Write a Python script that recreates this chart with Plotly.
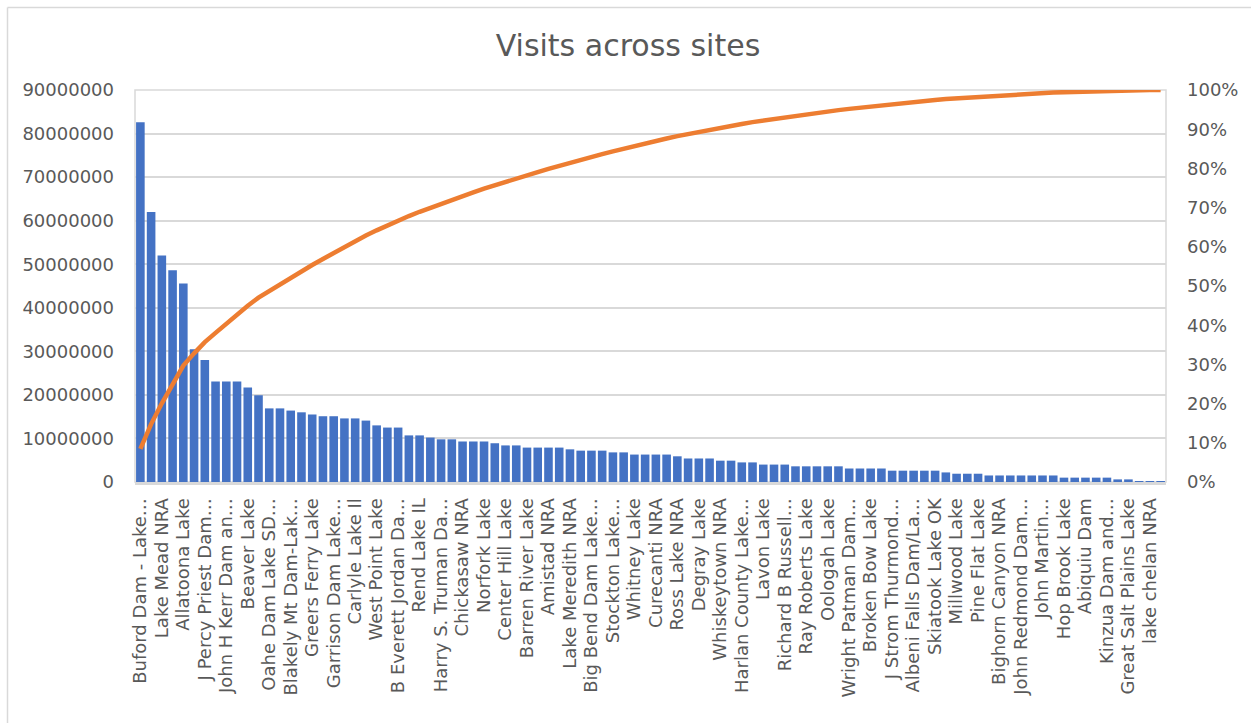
import plotly.graph_objects as go

# ---- data ----
site_labels = [
    "Buford Dam - Lake…", "Lake Mead NRA", "Allatoona Lake", "J Percy Priest Dam…",
    "John H Kerr Dam an…", "Beaver Lake", "Oahe Dam Lake SD…", "Blakely Mt Dam-Lak…",
    "Greers Ferry Lake", "Garrison Dam Lake…", "Carlyle Lake Il", "West Point Lake",
    "B Everett Jordan Da…", "Rend Lake IL", "Harry S. Truman Da…", "Chickasaw NRA",
    "Norfork Lake", "Center Hill Lake", "Barren River Lake", "Amistad NRA",
    "Lake Meredith NRA", "Big Bend Dam Lake…", "Stockton Lake…", "Whitney Lake",
    "Curecanti NRA", "Ross Lake NRA", "Degray Lake", "Whiskeytown NRA",
    "Harlan County Lake…", "Lavon Lake", "Richard B Russell…", "Ray Roberts Lake",
    "Oologah Lake", "Wright Patman Dam…", "Broken Bow Lake", "J Strom Thurmond…",
    "Albeni Falls Dam/La…", "Skiatook Lake OK", "Millwood Lake", "Pine Flat Lake",
    "Bighorn Canyon NRA", "John Redmond Dam…", "John Martin…", "Hop Brook Lake",
    "Abiquiu Dam", "Kinzua Dam and…", "Great Salt Plains Lake", "lake chelan NRA",
]

visits = [
    82600000, 62000000, 52000000, 48600000, 45600000, 30500000, 28000000, 23100000,
    23100000, 23100000, 21700000, 19900000, 16900000, 16900000, 16400000, 16000000,
    15500000, 15100000, 15100000, 14600000, 14600000, 14100000, 13000000, 12500000,
    12500000, 10700000, 10700000, 10200000, 9800000, 9800000, 9300000, 9300000,
    9300000, 8900000, 8400000, 8400000, 7900000, 7900000, 7900000, 7900000,
    7500000, 7200000, 7200000, 7200000, 6800000, 6800000, 6300000, 6300000,
    6300000, 6300000, 5900000, 5400000, 5400000, 5400000, 4900000, 4900000,
    4500000, 4500000, 4000000, 4000000, 4000000, 3600000, 3600000, 3600000,
    3600000, 3600000, 3100000, 3100000, 3100000, 3100000, 2600000, 2600000,
    2600000, 2600000, 2600000, 2200000, 1900000, 1900000, 1900000, 1500000,
    1500000, 1500000, 1500000, 1500000, 1500000, 1500000, 1000000, 1000000,
    1000000, 1000000, 1000000, 600000, 600000, 100000, 80000, 50000,
]

left_ticks = list(range(0, 90000001, 10000000))
right_ticks = list(range(0, 101, 10))

# ---- derived ----
positions = list(range(1, len(visits) + 1))
total = sum(visits)
cum_pct = []
running = 0
for v in visits:
    running += v
    cum_pct.append(running / total * 100)

FONT = "DejaVu Sans"
TXT = "#595959"
GRID = "#D9D9D9"

W, H = 1251, 723
ML, MR, MT, MB = 135, 85, 90, 241
PW = W - ML - MR
PH = H - MT - MB


def px_x(p):
    return (p - ML) / PW


def px_y(p):
    return (H - MB - p) / PH


fig = go.Figure()
fig.add_trace(go.Bar(
    x=positions, y=visits, marker_color="#4472C4", marker_line_width=0,
    name="Visits", yaxis="y",
))
fig.add_trace(go.Scatter(
    x=positions, y=cum_pct, mode="lines", line=dict(color="#ED7D31", width=4.5),
    name="Cumulative %", yaxis="y2",
))

fig.update_layout(
    width=W, height=H,
    margin=dict(l=ML, r=MR, t=MT, b=MB),
    paper_bgcolor="white", plot_bgcolor="white",
    showlegend=False,
    bargap=0.2,
    font=dict(family=FONT, color=TXT),
    title=dict(text="Visits across sites", x=0.502, xanchor="center",
               y=1 - 45 / H, yanchor="middle",
               font=dict(family=FONT, size=30, color=TXT)),
    xaxis=dict(
        range=[0.5, len(visits) + 0.5],
        tickmode="array", tickvals=positions[::2], ticktext=site_labels,
        tickangle=-90, tickfont=dict(family=FONT, size=18, color=TXT),
        showgrid=False, zeroline=False,
        showline=True, linecolor=GRID, linewidth=3,
        ticks="", ticklabelstandoff=6,
    ),
    yaxis=dict(
        range=[0, 90000000], tickvals=left_ticks, tickformat="d",
        tickfont=dict(family=FONT, size=18, color=TXT),
        showgrid=True, gridcolor=GRID, gridwidth=1.5,
        zeroline=False, showline=False, ticks="", ticklabelstandoff=20,
    ),
    yaxis2=dict(
        range=[0, 100], tickvals=right_ticks,
        ticktext=[f"{t}%" for t in right_ticks],
        tickfont=dict(family=FONT, size=18, color=TXT),
        overlaying="y", side="right", showgrid=False, zeroline=False,
        showline=False, ticks="", ticklabelstandoff=20,
    ),
    shapes=[
        dict(type="rect", xref="paper", yref="paper", x0=0, x1=1, y0=0, y1=1,
             line=dict(color=GRID, width=1.5), layer="below"),
        dict(type="line", xref="paper", yref="paper",
             x0=px_x(7.5), x1=px_x(1260), y0=px_y(7.5), y1=px_y(7.5),
             line=dict(color=GRID, width=1.5)),
        dict(type="line", xref="paper", yref="paper",
             x0=px_x(7.5), x1=px_x(7.5), y0=px_y(7.5), y1=px_y(730),
             line=dict(color=GRID, width=1.5)),
    ],
)

fig.write_html("out.html")
